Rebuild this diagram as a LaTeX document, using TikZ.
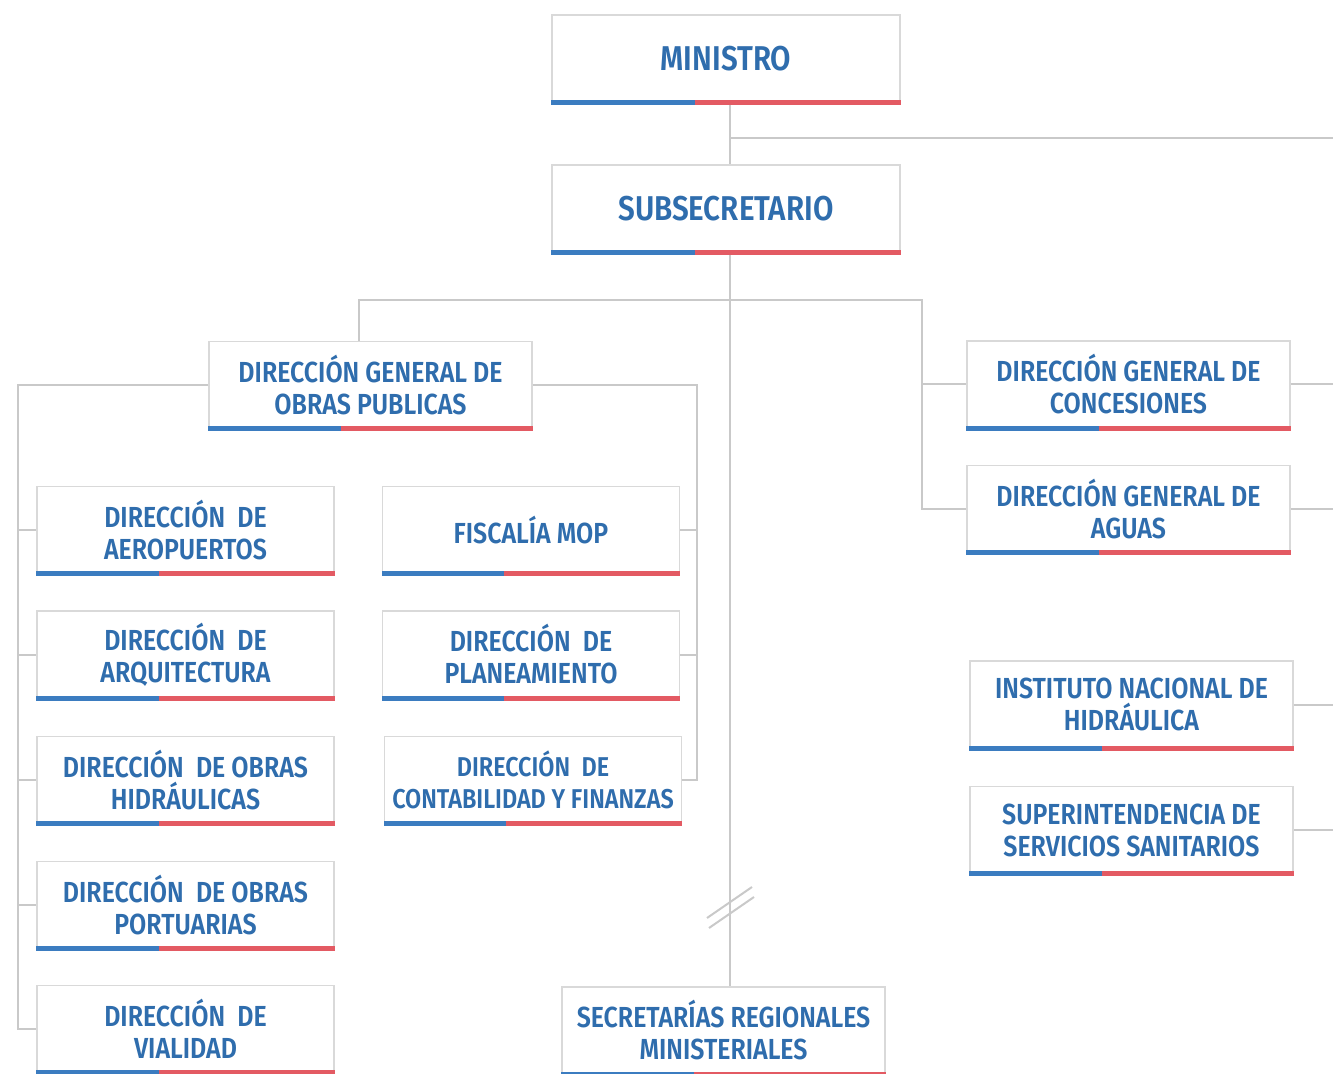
\documentclass[tikz,border=0pt]{standalone}
\usepackage{fontspec}
\setmainfont{Fira Sans}[FakeStretch=0.86,BoldFont={Fira Sans SemiBold}]
\usetikzlibrary{positioning,calc}
\definecolor{mopblue}{HTML}{3B7CC0}
\definecolor{mopred}{HTML}{E35A63}
\definecolor{moptext}{HTML}{2F6DAD}
\definecolor{moplink}{HTML}{C9C9C9}

\begin{document}
\begin{tikzpicture}[x=0.5pt,y=-0.5pt,
  unit/.style={draw=gray!30,fill=white,line width=0.6pt,align=center,text=moptext,
    font=\bfseries\fontsize{14.5}{16}\selectfont,minimum height=43.5pt,inner sep=1pt},
  big/.style={unit,minimum width=174pt,font=\bfseries\fontsize{17.2}{20}\selectfont},
  mid/.style={unit,minimum width=161.5pt},
  small/.style={unit,minimum width=148.5pt},
  link/.style={draw=moplink,line width=1pt}]
\useasboundingbox (0,0) rectangle (1333,1074);
% top of the chart
\node (MIN) at (726,58.5) [big] {MINISTRO};
\node (SUB) at (726,208.5) [big] {SUBSECRETARIO};
\node (DGOP) at (370.5,385) [mid] {DIRECCIÓN GENERAL DE\\OBRAS PUBLICAS};
\node (DGC) at (1128.5,384.5) [mid] {DIRECCIÓN GENERAL DE\\CONCESIONES};
\node (DGA) at (1128.5,509) [mid] {DIRECCIÓN GENERAL DE\\AGUAS};
\node (INH) at (1131.5,704.5) [mid] {INSTITUTO NACIONAL DE\\HIDRÁULICA};
\node (SISS) at (1131.5,830) [mid] {SUPERINTENDENCIA DE\\SERVICIOS SANITARIOS};
\node (SEREMI) at (723.5,1030.5) [mid] {SECRETARÍAS REGIONALES\\MINISTERIALES};
% direcciones under DGOP
\node (AERO) at (185.5,530) [small] {DIRECCIÓN \ DE\\AEROPUERTOS};
\node (ARQ) at (185.5,654.5) [small] {DIRECCIÓN \ DE\\ARQUITECTURA};
\node (HID) at (185.5,780) [small] {DIRECCIÓN \ DE OBRAS\\HIDRÁULICAS};
\node (PORT) at (185.5,905) [small] {DIRECCIÓN \ DE OBRAS\\PORTUARIAS};
\node (VIAL) at (185.5,1029) [small] {DIRECCIÓN \ DE\\VIALIDAD};
\node (FIS) at (531,530) [small] {FISCALÍA MOP};
\node (PLAN) at (531,654.5) [small] {DIRECCIÓN \ DE\\PLANEAMIENTO};
\node (CONT) at (533,780) [small,font=\bfseries\fontsize{13.6}{16}\selectfont] {DIRECCIÓN \ DE\\CONTABILIDAD Y FINANZAS};
% junctions
\coordinate (hub) at (730,138);
\coordinate (edge) at (1333,0);
\coordinate (jL) at (359,300);
\coordinate (jR) at (922,300);
\coordinate (lt) at (18,385);
\coordinate (rt) at (697,385);
% connectors
\draw[link] (MIN.south -| hub) -- (SUB.north -| hub);
\draw[link] (hub) -- (hub -| edge);
\draw[link] (SUB.south -| hub) -- (SEREMI.north -| hub);
\draw[link] (DGOP.north -| jL) -- (jL) -- (jR) |- (DGA.west);
\draw[link] (jR) |- (DGC.west);
\draw[link] (DGOP.west) -- (lt) |- (VIAL.west);
\foreach \n in {AERO,ARQ,HID,PORT}
  \draw[link] (lt) |- (\n.west);
\draw[link] (DGOP.east) -- (rt) |- (CONT.east);
\foreach \n in {FIS,PLAN}
  \draw[link] (rt) |- (\n.east);
\foreach \n in {DGC,DGA,INH,SISS}
  \draw[link] (\n.east) -- (\n.east -| edge);
% break mark on the line to the SEREMI
\draw[link] (707,918) -- (752,887);
\draw[link] (709,928) -- (754,897);
% blue and red bars
\foreach \n in {MIN,SUB,DGOP,DGC,DGA,INH,SISS,SEREMI,AERO,ARQ,HID,PORT,VIAL,FIS,PLAN,CONT} {
  \fill[mopblue] ($(\n.south west)+(0,2)$) rectangle ($(\n.south west)!0.41!(\n.south east)+(0,-3)$);
  \fill[mopred] ($(\n.south west)!0.41!(\n.south east)+(0,2)$) rectangle ($(\n.south east)+(0,-3)$);
}
\end{tikzpicture}
\end{document}
